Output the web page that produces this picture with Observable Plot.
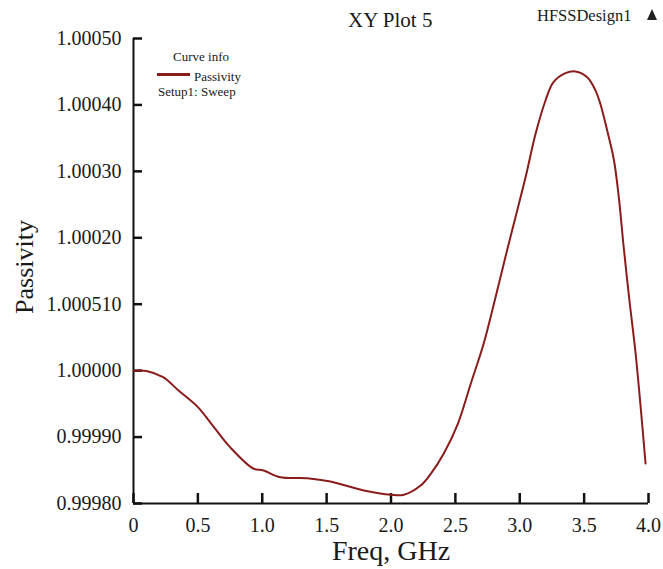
<!DOCTYPE html>
<html>
<head>
<meta charset="utf-8">
<script src="https://cdn.jsdelivr.net/npm/d3@7"></script>
<script src="https://cdn.jsdelivr.net/npm/@observablehq/plot@0.6"></script>
<style>
  html, body { margin: 0; padding: 0; background: #fff; }
  #wrap { position: relative; width: 663px; height: 569px; font-family: "Liberation Serif", "DejaVu Serif", serif; }
  .t { position: absolute; white-space: nowrap; color: #1a1a1a; line-height: 1; }
</style>
</head>
<body>
<div id="wrap">
  <div id="chart"></div>
  <div class="t" style="left:348px; top:10px; font-size:21px;">XY Plot 5</div>
  <div class="t" style="left:537px; top:8px; font-size:16.5px;">HFSSDesign1</div>
  <div style="position:absolute; left:647px; top:9px; width:0; height:0; border-left:5.5px solid transparent; border-right:5.5px solid transparent; border-bottom:11px solid #222;"></div>
  <div class="t" style="left:173px; top:50px; font-size:13px;">Curve info</div>
  <div style="position:absolute; left:157px; top:73px; width:33px; height:3px; background:#8b1c1c;"></div>
  <div class="t" style="left:194px; top:70px; font-size:13px;">Passivity</div>
  <div class="t" style="left:158px; top:85px; font-size:13px;">Setup1: Sweep</div>
</div>
<script>
const freq = [0.00, 0.10, 0.23, 0.35, 0.50, 0.62, 0.75, 0.93, 1.01, 1.14, 1.35, 1.53, 1.79, 2.00, 2.10, 2.23, 2.31, 2.41, 2.52, 2.62, 2.72, 2.80, 2.905, 2.967, 3.045, 3.123, 3.200, 3.262, 3.355, 3.433, 3.524, 3.588, 3.627, 3.679, 3.731, 3.770, 3.806, 3.852, 3.899, 3.938, 3.977];
const passivity = [1.0000000, 0.9999995, 0.9999901, 0.9999700, 0.9999450, 0.9999160, 0.9998848, 0.9998527, 0.9998497, 0.9998396, 0.9998381, 0.9998331, 0.9998196, 0.9998131, 0.9998131, 0.9998270, 0.9998450, 0.9998753, 0.9999204, 0.9999806, 1.0000409, 1.0001011, 1.0001839, 1.0002310, 1.0002910, 1.0003565, 1.0004067, 1.0004342, 1.0004478, 1.0004503, 1.0004417, 1.0004220, 1.0004010, 1.0003615, 1.0003174, 1.0002600, 1.0001884, 1.0001056, 1.0000273, 0.9999475, 0.9998602];
const xTicks = [0, 0.5, 1.0, 1.5, 2.0, 2.5, 3.0, 3.5, 4.0];
const xTickLabels = ["0", "0.5", "1.0", "1.5", "2.0", "2.5", "3.0", "3.5", "4.0"];
const yTicks = [0.9998, 0.9999, 1.0000, 1.0001, 1.0002, 1.0003, 1.0004, 1.0005];
const yTickLabels = ["0.99980", "0.99990", "1.00000", "1.000510", "1.00020", "1.00030", "1.00040", "1.00050"];

const data = freq.map((f, i) => ({f, v: passivity[i]}));
const yIdx = d => Math.round((d - 0.9998) / 0.0001);
const xIdx = d => Math.round(d / 0.5);

const chart = Plot.plot({
  width: 663,
  height: 569,
  marginLeft: 133,
  marginRight: 15,
  marginTop: 38,
  marginBottom: 66,
  style: {fontFamily: "Liberation Serif, serif", fontSize: "20px", color: "#1a1a1a", background: "#fff"},
  x: {domain: [0, 4]},
  y: {domain: [0.9998, 1.0005]},
  marks: [
    Plot.axisX({ticks: xTicks, tickSize: 0, tickPadding: 14, tickFormat: d => xTickLabels[xIdx(d)], label: null, fontSize: 20}),
    Plot.axisY({ticks: yTicks, tickSize: 0, tickPadding: 12, tickFormat: d => yTickLabels[yIdx(d)], label: null, fontSize: 20}),
    Plot.tickY(yTicks, {y: d => d, insetRight: 506, stroke: "#111", strokeWidth: 2.5}),
    Plot.tickX(xTicks, {x: d => d, insetTop: 455, stroke: "#111", strokeWidth: 2.5}),
    Plot.ruleX([0], {stroke: "#111", strokeWidth: 2}),
    Plot.ruleY([0.9998], {stroke: "#111", strokeWidth: 2}),
    Plot.line(data, {x: "f", y: "v", stroke: "#8b1c1c", strokeWidth: 2, curve: "catmull-rom"}),
    Plot.text(["Freq, GHz"], {frameAnchor: "bottom", lineAnchor: "middle", dy: 48, fontSize: 28, fill: "#1a1a1a"}),
    Plot.text(["Passivity"], {frameAnchor: "left", textAnchor: "middle", lineAnchor: "middle", dx: -109, dy: -4, rotate: -90, fontSize: 26, fill: "#1a1a1a"})
  ]
});
document.getElementById("chart").appendChild(chart);
</script>
</body>
</html>
